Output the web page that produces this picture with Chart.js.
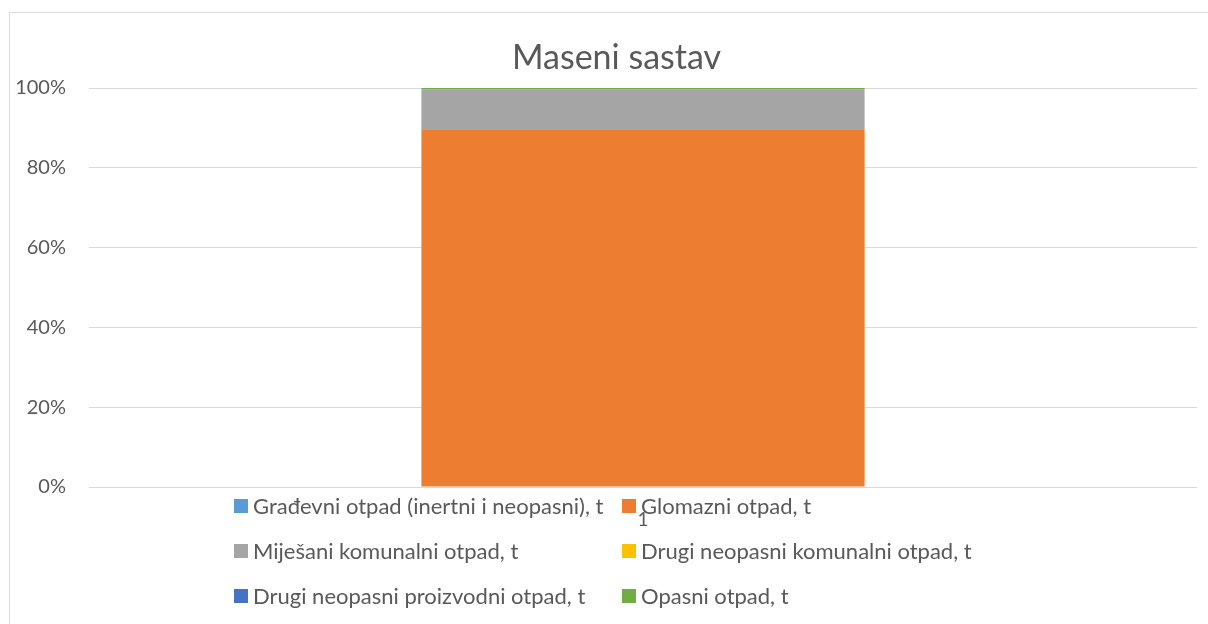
<!DOCTYPE html>
<html>
<head>
<meta charset="utf-8">
<script src="https://cdn.jsdelivr.net/npm/chart.js@4"></script>
<style>
  html, body { margin: 0; padding: 0; background: #fff; overflow: hidden; }
  #box {
    position: absolute; left: 9px; top: 12px;
    width: 1215px; height: 620px;
    border: 1px solid #d9d9d9;
  }
</style>
</head>
<body>
<div id="box"><canvas id="chart" width="1215" height="620"></canvas></div>
<script>
// share of each waste type, in %
const categories = ['1'];
const seriesNames = [
  'Građevni otpad (inertni i neopasni), t',
  'Glomazni otpad, t',
  'Miješani komunalni otpad, t',
  'Drugi neopasni komunalni otpad, t',
  'Drugi neopasni proizvodni otpad, t',
  'Opasni otpad, t'
];
const gradevni = [0];
const glomazni = [89.5];
const mijesani = [10.2];
const drugiKomunalni = [0];
const drugiProizvodni = [0];
const opasni = [0.3];
const yTicks = [0, 20, 40, 60, 80, 100];

const colors = ['#5B9BD5', '#ED7D31', '#A5A5A5', '#FFC000', '#4472C4', '#70AD47'];
const allValues = [gradevni, glomazni, mijesani, drugiKomunalni, drugiProizvodni, opasni];
const textColor = '#595959';
const fontFamily = 'Lato, Carlito, "Liberation Sans", sans-serif';

const datasets = seriesNames.map((name, i) => ({
  label: name,
  data: allValues[i],
  backgroundColor: colors[i],
  borderWidth: 0,
  categoryPercentage: 0.4,
  barPercentage: 1
}));

// title and the 2-column legend, drawn like the original
const decorPlugin = {
  id: 'decor',
  afterDraw(chart) {
    const ctx = chart.ctx;
    ctx.save();
    ctx.fillStyle = textColor;
    ctx.font = '34px ' + fontFamily;
    ctx.textAlign = 'center';
    ctx.textBaseline = 'middle';
    ctx.fillText('Maseni sastav', chart.width / 2 - 1, 45);

    ctx.font = '22px ' + fontFamily;
    ctx.textAlign = 'left';
    const colX = [224, 612];
    const rowY = [493, 538, 583];
    seriesNames.forEach((name, i) => {
      const x = colX[i % 2];
      const y = rowY[Math.floor(i / 2)];
      ctx.fillStyle = colors[i];
      ctx.fillRect(x, y - 7, 14, 14);
      ctx.fillStyle = textColor;
      ctx.fillText(name, x + 19, y + 1);
    });
    ctx.restore();
  }
};

new Chart(document.getElementById('chart'), {
  type: 'bar',
  data: { labels: categories, datasets: datasets },
  options: {
    responsive: false,
    animation: false,
    layout: { padding: { left: 0, right: 28, top: 75, bottom: 86 } },
    plugins: {
      legend: { display: false },
      title: { display: false },
      tooltip: { enabled: false }
    },
    scales: {
      x: {
        stacked: true,
        afterFit(scale) { scale.height = 60; },
        grid: { display: false },
        border: { display: false },
        ticks: { color: textColor, font: { family: fontFamily, size: 19 }, padding: 13 }
      },
      y: {
        stacked: true,
        min: 0,
        max: 100,
        afterFit(scale) { scale.width = 79; },
        afterBuildTicks(scale) { scale.ticks = yTicks.map(v => ({ value: v })); },
        grid: { color: '#d9d9d9', lineWidth: 1, drawTicks: false },
        border: { display: false },
        ticks: {
          color: textColor,
          font: { family: fontFamily, size: 20 },
          padding: 23,
          callback: v => v + '%'
        }
      }
    }
  },
  plugins: [decorPlugin]
});
</script>
</body>
</html>
